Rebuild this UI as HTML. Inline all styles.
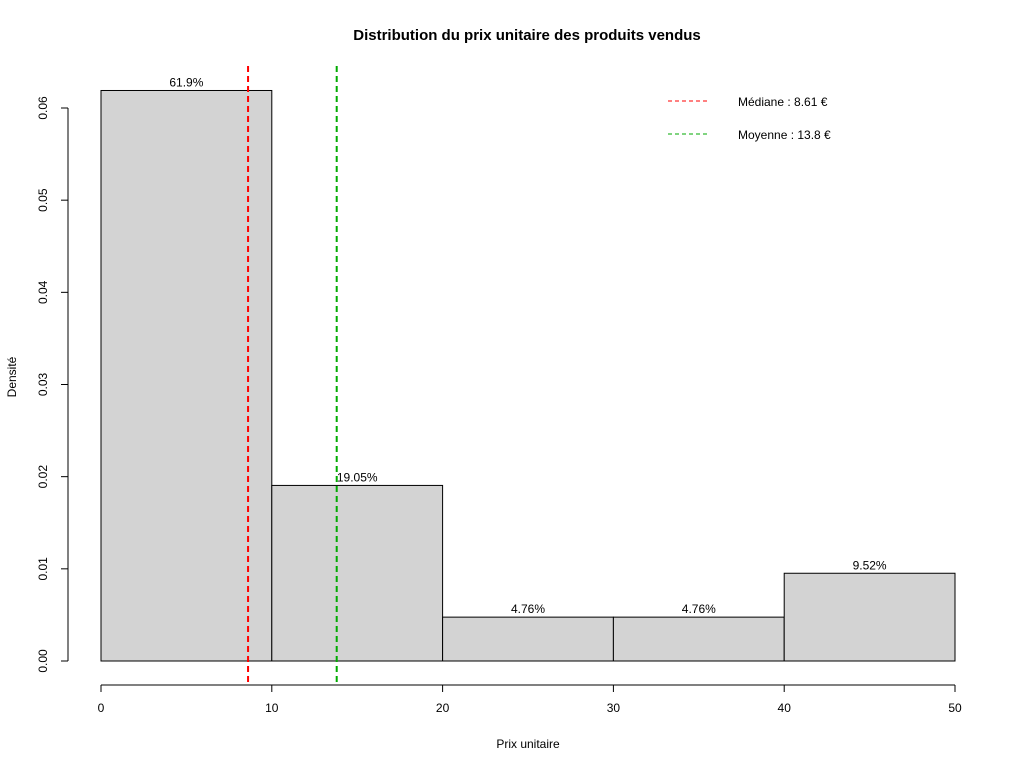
<!DOCTYPE html>
<html><head><meta charset="utf-8"><style>
body{margin:0;background:#fff}
svg text{font-family:"Liberation Sans",sans-serif;fill:#000}
</style></head><body>
<svg id="c" width="1024" height="768" xmlns="http://www.w3.org/2000/svg">
<text x="527" y="40" text-anchor="middle" font-size="15" font-weight="bold">Distribution du prix unitaire des produits vendus</text>
<text x="528" y="748" text-anchor="middle" font-size="12">Prix unitaire</text>
<text transform="translate(16,377) rotate(-90)" text-anchor="middle" font-size="12">Densité</text>
<g id="bars"></g><g id="xax"></g><g id="yax"></g><g id="ref"></g>
<g>
<line x1="668" y1="101" x2="710" y2="101" stroke="#f00" stroke-dasharray="4,3"/>
<text x="738" y="106" font-size="12">Médiane : 8.61 €</text>
<line x1="668" y1="134" x2="710" y2="134" stroke="#0a0" stroke-dasharray="4,3"/>
<text x="738" y="139" font-size="12">Moyenne : 13.8 €</text>
</g>
</svg>
<script>
const breaks=[0,10,20,30,40,50];
const densities=[0.0619,0.01905,0.00476,0.00476,0.00952];
const pctLabels=["61.9%","19.05%","4.76%","4.76%","9.52%"];
const xTicks=[0,10,20,30,40,50];
const yTicks=[0,0.01,0.02,0.03,0.04,0.05,0.06];
const yTickLabels=["0.00","0.01","0.02","0.03","0.04","0.05","0.06"];
const median=8.61, mean=13.8;
const NS="http://www.w3.org/2000/svg";
const X=v=>101+v*(854/50), Y=v=>661-v*(553/0.06);
function mk(p,t,a){const e=document.createElementNS(NS,t);for(const k in a)e.setAttribute(k,a[k]);p.appendChild(e);return e;}
const B=document.getElementById('bars');
densities.forEach((d,i)=>{
 const r=mk(B,'rect',{x:X(breaks[i]),y:Y(d),width:X(breaks[i+1])-X(breaks[i]),height:Y(0)-Y(d),fill:'#d3d3d3',stroke:'#000'});
 
 
 const t=mk(B,'text',{x:(X(breaks[i])+X(breaks[i+1]))/2,y:Y(d)-4,'text-anchor':'middle','font-size':12});
 t.textContent=pctLabels[i];
 
 
});
const XA=document.getElementById('xax');
mk(XA,'line',{x1:X(xTicks[0]),x2:X(xTicks[xTicks.length-1]),y1:685,y2:685,stroke:'#000'});
xTicks.forEach(v=>{mk(XA,'line',{x1:X(v),x2:X(v),y1:685,y2:692,stroke:'#000'});
 const t=mk(XA,'text',{x:X(v),y:712,'text-anchor':'middle','font-size':12});t.textContent=v;
 
 });
const YA=document.getElementById('yax');
mk(YA,'line',{x1:68,x2:68,y1:Y(yTicks[0]),y2:Y(yTicks[yTicks.length-1]),stroke:'#000'});
yTicks.forEach((v,i)=>{mk(YA,'line',{x1:61,x2:68,y1:Y(v),y2:Y(v),stroke:'#000'});
 const t=mk(YA,'text',{transform:`translate(47,${Y(v)}) rotate(-90)`,'text-anchor':'middle','font-size':12});t.textContent=yTickLabels[i];
 
 });
const R=document.getElementById('ref');
const m1=mk(R,'line',{x1:X(median),x2:X(median),y1:66,y2:685,stroke:'#f00','stroke-width':2,'stroke-dasharray':'6,4'});


const m2=mk(R,'line',{x1:X(mean),x2:X(mean),y1:66,y2:685,stroke:'#0a0','stroke-width':2,'stroke-dasharray':'6,4'});


</script>
</body></html>
